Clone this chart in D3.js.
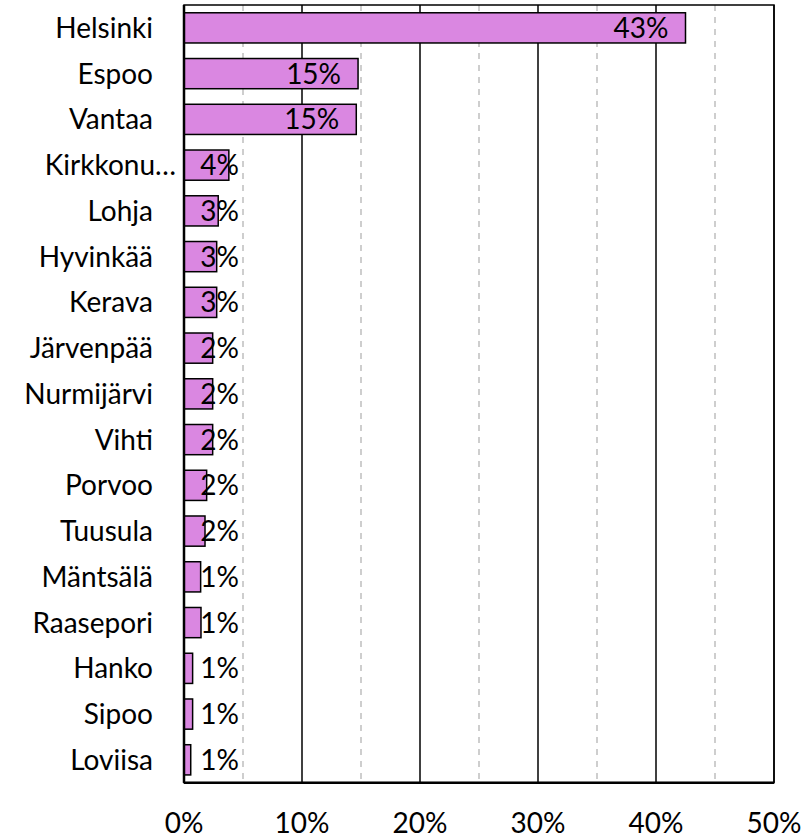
<!DOCTYPE html>
<html><head><meta charset="utf-8">
<script src="https://cdn.jsdelivr.net/npm/d3@7"></script>
<style>body{margin:0;background:#fff}svg{display:block}</style>
</head><body>
<svg id="c" width="808" height="839"></svg>
<script>
const categories = ["Helsinki","Espoo","Vantaa","Kirkkonu…","Lohja","Hyvinkää","Kerava","Järvenpää","Nurmijärvi","Vihti","Porvoo","Tuusula","Mäntsälä","Raasepori","Hanko","Sipoo","Loviisa"];
const values = [42.5,14.75,14.6,3.8,2.9,2.77,2.77,2.43,2.43,2.43,1.92,1.78,1.41,1.44,0.73,0.73,0.57];
const valueLabels = ["43%","15%","15%","4%","3%","3%","3%","2%","2%","2%","2%","2%","1%","1%","1%","1%","1%"];
const majorTicks = [0,10,20,30,40,50];
const minorTicks = [5,15,25,35,45];

const svg = d3.select("#c");
const L = 184, R = 774, T = 5, B = 782.7;
const font = "Lato, 'Carlito', sans-serif";
const fs = 28;
const x = d3.scaleLinear().domain([0,50]).range([L,R]);
const y = d3.scaleBand().domain(categories).range([T,B]).paddingInner(0.34).paddingOuter(0.17);

svg.selectAll("line.minor").data(minorTicks).join("line")
  .attr("x1",d=>x(d)).attr("x2",d=>x(d)).attr("y1",T).attr("y2",B)
  .attr("stroke","#bfbfbf").attr("stroke-width",1.5).attr("stroke-dasharray","6,6");
svg.selectAll("line.major").data(majorTicks).join("line")
  .attr("x1",d=>x(d)).attr("x2",d=>x(d)).attr("y1",T).attr("y2",B)
  .attr("stroke","#000").attr("stroke-width",1.5);
svg.append("rect").attr("x",L).attr("y",T).attr("width",R-L).attr("height",B-T)
  .attr("fill","none").attr("stroke","#000").attr("stroke-width",1.5);

svg.selectAll("rect.bar").data(values).join("rect")
  .attr("x",x(0)).attr("y",(d,i)=>y(categories[i]))
  .attr("width",d=>x(d)-x(0)).attr("height",y.bandwidth())
  .attr("fill","#da87e1").attr("stroke","#000").attr("stroke-width",1.5);

svg.append("line").attr("x1",L).attr("x2",L).attr("y1",T).attr("y2",B).attr("stroke","#000").attr("stroke-width",2.5);
svg.append("line").attr("x1",L).attr("x2",R).attr("y1",B).attr("y2",B).attr("stroke","#000").attr("stroke-width",2.5);

svg.selectAll("text.val").data(values).join("text")
  .attr("x",d=>Math.max(x(d)-17, x(0)+55))
  .attr("y",(d,i)=>y(categories[i])+y.bandwidth()/2)
  .attr("dy","0.36em").attr("text-anchor","end")
  .attr("font-family",font).attr("font-size",fs).attr("fill","#000")
  .text((d,i)=>valueLabels[i]);

svg.selectAll("text.cat").data(categories).join("text")
  .attr("x",d=>d.endsWith("…") ? 176 : 153)
  .attr("y",d=>y(d)+y.bandwidth()/2)
  .attr("dy","0.36em").attr("text-anchor","end")
  .attr("font-family",font).attr("font-size",fs).attr("fill","#000")
  .text(d=>d);

svg.selectAll("text.tick").data(majorTicks).join("text")
  .attr("x",d=>x(d)).attr("y",833)
  .attr("text-anchor","middle")
  .attr("font-family",font).attr("font-size",fs).attr("fill","#000")
  .text(d=>d+"%");
</script>
</body></html>
